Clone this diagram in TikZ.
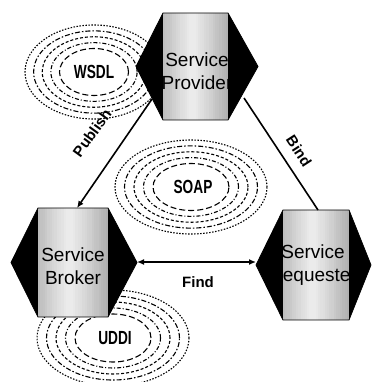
\documentclass[tikz,border=0pt]{standalone}
\usepackage{fontspec}
\setmainfont{Liberation Sans}
\newfontfamily\narrowfont[FakeStretch=0.72]{Liberation Sans}
\usetikzlibrary{arrows.meta}
\newcommand{\ringset}[3]{%
  \foreach \f/\s in {0.5/ra,0.625/rb,0.75/rc,0.875/rd,1/re}
    \draw[ring,\s] #1 ellipse [x radius={\f*#2 pt}, y radius={\f*#3 pt}];
}
\newcommand{\hexa}[7]{%
  \pgfmathsetmacro\hexmy{(#6+#7)/2}
  \coordinate (#1-L) at (#2,\hexmy);
  \coordinate (#1-TL) at (#3,#6);
  \coordinate (#1-TR) at (#4,#6);
  \coordinate (#1-R) at (#5,\hexmy);
  \coordinate (#1-BR) at (#4,#7);
  \coordinate (#1-BL) at (#3,#7);
  \fill[black] (#1-L) -- (#1-TL) -- (#1-BL) -- cycle;
  \fill[black] (#1-R) -- (#1-TR) -- (#1-BR) -- cycle;
  \foreach \i in {0,...,29}{%
    \pgfmathsetmacro\xa{#3+(#4-#3)*\i/30}
    \pgfmathsetmacro\xb{#3+(#4-#3)*(\i+1)/30+0.3}
    \pgfmathsetmacro\kk{int(8+50*abs((\i+0.5)/30-0.45)^1.2)}
    \fill[black!\kk] (\xa,#6) rectangle (\xb,#7);
  }
  \draw[line width=0.8pt] (#1-L) -- (#1-TL) -- (#1-TR) -- (#1-R) -- (#1-BR) -- (#1-BL) -- cycle;
}
\begin{document}
\begin{tikzpicture}[x=1pt,y=-1pt,
  ring/.style={line width=1.1pt, black},
  ra/.style={dash pattern=on 6pt off 3pt},
  rb/.style={dash pattern=on 4pt off 2pt on 1pt off 2pt},
  rc/.style={dash pattern=on 3pt off 2pt},
  rd/.style={dash pattern=on 5pt off 2pt on 1.5pt off 2pt},
  re/.style={dash pattern=on 1.5pt off 1.5pt},
  hextext/.style={align=center, inner sep=0pt, font=\fontsize{19}{23}\selectfont},
  ringtext/.style={inner sep=0pt, font=\narrowfont\bfseries\fontsize{19}{19}\selectfont},
  lbl/.style={inner sep=0pt, font=\bfseries\fontsize{15}{15}\selectfont},
  conn/.style={line width=1.6pt, black}
]
\useasboundingbox (0,0) rectangle (372,382);
% rings
\ringset{(94,72)}{69}{47}
\ringset{(191,187)}{76}{47}
\ringset{(113,338)}{76}{48}
\node[ringtext] (wsdl) at (94,72) {WSDL};
\node[ringtext] (soap) at (193,187) {SOAP};
\node[ringtext] (uddi) at (115,338) {UDDI};
% hexagons
\hexa{prov}{136}{163}{228}{258}{13}{120}
\hexa{brok}{11}{38}{108}{137}{208}{317}
\hexa{req}{256}{283}{349}{371}{210}{320}
\node[hextext] (provtext) at (197,71) {Service\\Provider};
\node[hextext] (broktext) at (73,266) {Service\\Broker};
\node[hextext] (reqtext) at (313,265) {Service\\Requester};
% connector end points on the hexagons
\coordinate (provPub) at (152,99);
\coordinate (provBind) at (244,98);
\coordinate (brokTop) at (77,208);
\coordinate (brokRight) at (137,262);
\coordinate (reqTop) at (318,210);
\coordinate (reqLeft) at (256,262);
\draw[conn, -{Latex[length=7pt,width=6pt]}] (provPub) -- (brokTop);
\draw[conn] (provBind) -- (reqTop);
\draw[conn, {Latex[length=7pt,width=6pt]}-{Latex[length=7pt,width=6pt]}] (brokRight) -- (reqLeft);
\node[lbl, rotate=54] (publish) at (92,133) {Publish};
\node[lbl, rotate=-57] (bind) at (299,151) {Bind};
\node[lbl] (find) at (198,282) {Find};
\end{tikzpicture}
\end{document}
